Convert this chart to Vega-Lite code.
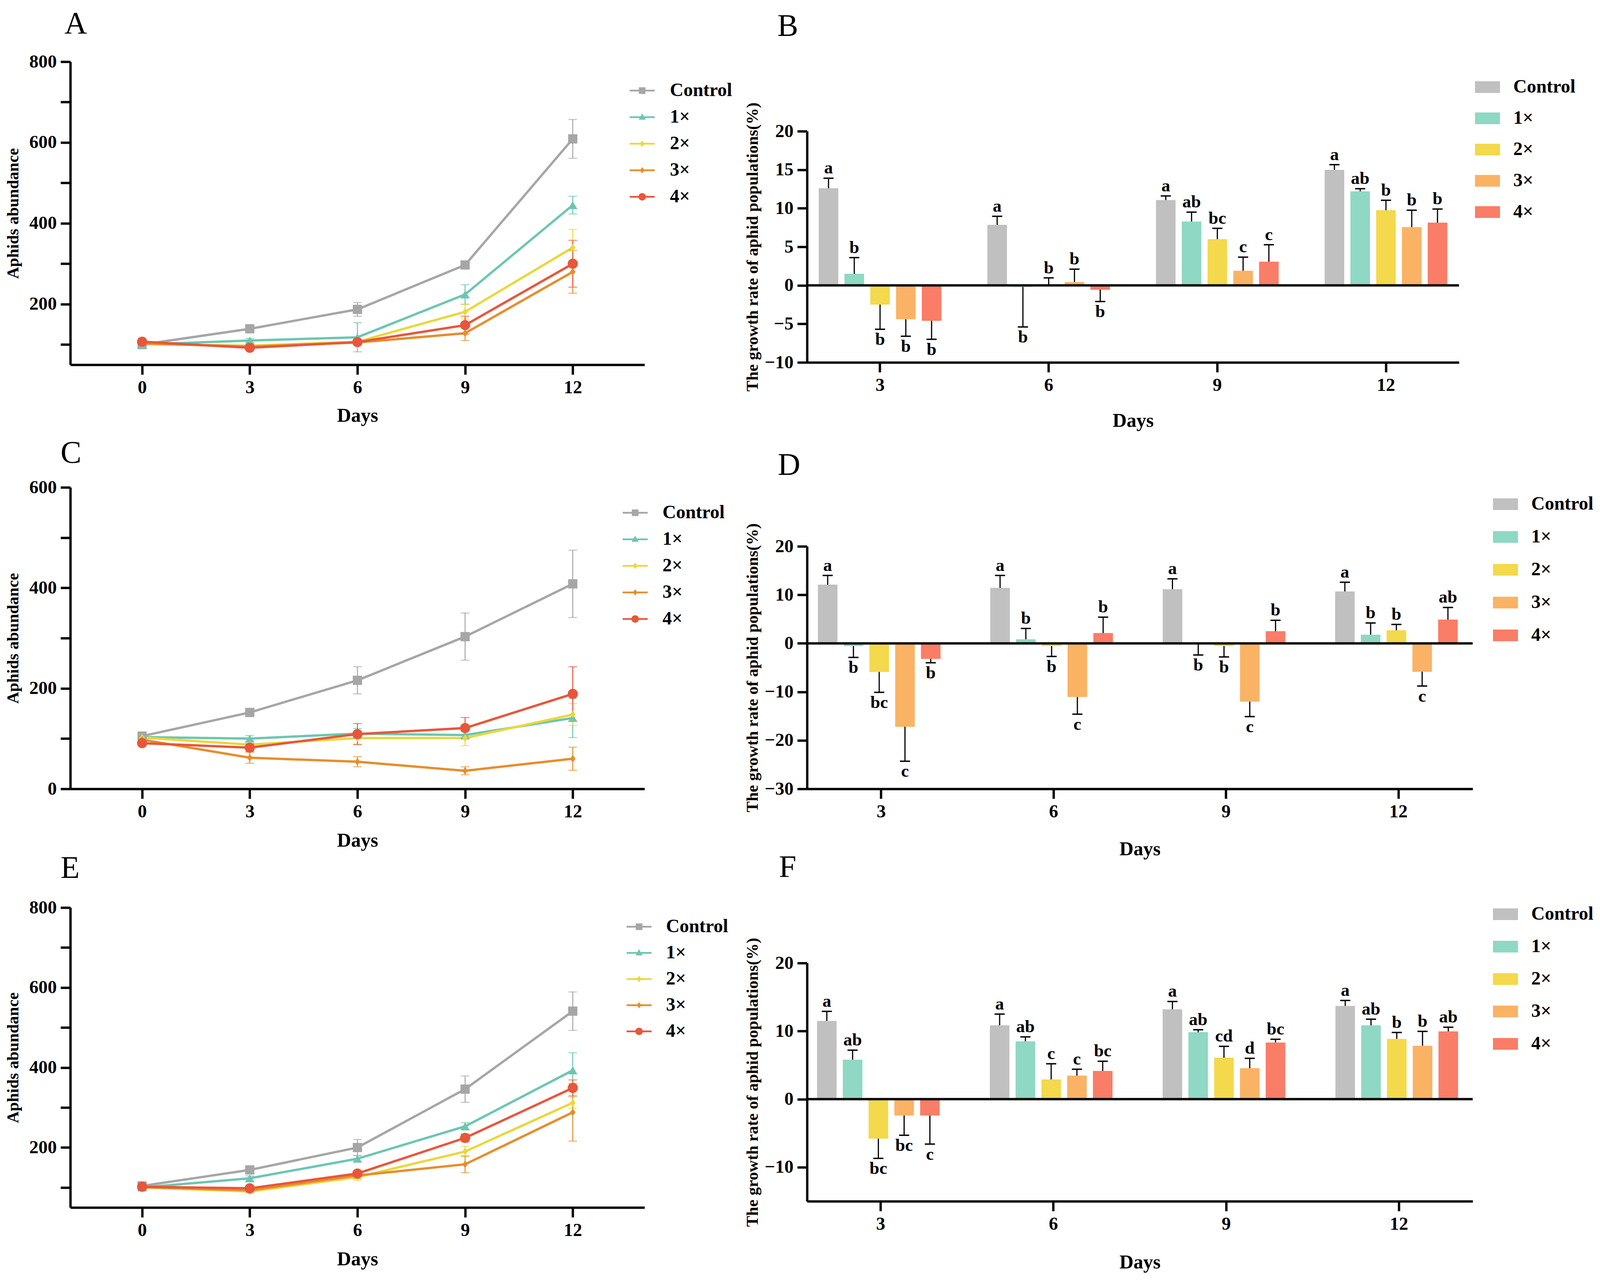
{
  "$schema": "https://vega.github.io/schema/vega-lite/v6.json",
  "padding": {"left": 12, "top": 22, "right": 5, "bottom": 5},
  "datasets": {
    "lineA": [
      {"series": "Control", "day": 0, "mean": 100, "lo": 96, "hi": 104},
      {"series": "Control", "day": 3, "mean": 139, "lo": 133, "hi": 145},
      {"series": "Control", "day": 6, "mean": 187, "lo": 170, "hi": 204},
      {"series": "Control", "day": 9, "mean": 297, "lo": 289, "hi": 305},
      {"series": "Control", "day": 12, "mean": 609, "lo": 561, "hi": 657},
      {"series": "1×", "day": 0, "mean": 100, "lo": 97, "hi": 103},
      {"series": "1×", "day": 3, "mean": 110, "lo": 105, "hi": 115},
      {"series": "1×", "day": 6, "mean": 118, "lo": 82, "hi": 154},
      {"series": "1×", "day": 9, "mean": 224, "lo": 200, "hi": 248},
      {"series": "1×", "day": 12, "mean": 445, "lo": 423, "hi": 467},
      {"series": "2×", "day": 0, "mean": 101, "lo": 98, "hi": 104},
      {"series": "2×", "day": 3, "mean": 97, "lo": 93, "hi": 101},
      {"series": "2×", "day": 6, "mean": 107, "lo": 101, "hi": 113},
      {"series": "2×", "day": 9, "mean": 181, "lo": 163, "hi": 199},
      {"series": "2×", "day": 12, "mean": 340, "lo": 295, "hi": 385},
      {"series": "3×", "day": 0, "mean": 103, "lo": 100, "hi": 106},
      {"series": "3×", "day": 3, "mean": 95, "lo": 91, "hi": 99},
      {"series": "3×", "day": 6, "mean": 105, "lo": 100, "hi": 110},
      {"series": "3×", "day": 9, "mean": 128, "lo": 110, "hi": 146},
      {"series": "3×", "day": 12, "mean": 280, "lo": 227, "hi": 333},
      {"series": "4×", "day": 0, "mean": 107, "lo": 104, "hi": 110},
      {"series": "4×", "day": 3, "mean": 92, "lo": 88, "hi": 96},
      {"series": "4×", "day": 6, "mean": 106, "lo": 100, "hi": 112},
      {"series": "4×", "day": 9, "mean": 148, "lo": 126, "hi": 170},
      {"series": "4×", "day": 12, "mean": 300, "lo": 242, "hi": 358}
    ],
    "lineC": [
      {"series": "Control", "day": 0, "mean": 105, "lo": 100, "hi": 110},
      {"series": "Control", "day": 3, "mean": 152, "lo": 144, "hi": 160},
      {"series": "Control", "day": 6, "mean": 216, "lo": 189, "hi": 243},
      {"series": "Control", "day": 9, "mean": 303, "lo": 256, "hi": 350},
      {"series": "Control", "day": 12, "mean": 408, "lo": 341, "hi": 475},
      {"series": "1×", "day": 0, "mean": 103, "lo": 99, "hi": 107},
      {"series": "1×", "day": 3, "mean": 100, "lo": 94, "hi": 106},
      {"series": "1×", "day": 6, "mean": 110, "lo": 100, "hi": 120},
      {"series": "1×", "day": 9, "mean": 107, "lo": 99, "hi": 115},
      {"series": "1×", "day": 12, "mean": 141, "lo": 102, "hi": 180},
      {"series": "2×", "day": 0, "mean": 102, "lo": 98, "hi": 106},
      {"series": "2×", "day": 3, "mean": 88, "lo": 82, "hi": 94},
      {"series": "2×", "day": 6, "mean": 101, "lo": 89, "hi": 113},
      {"series": "2×", "day": 9, "mean": 101, "lo": 86, "hi": 116},
      {"series": "2×", "day": 12, "mean": 148, "lo": 126, "hi": 170},
      {"series": "3×", "day": 0, "mean": 98, "lo": 94, "hi": 102},
      {"series": "3×", "day": 3, "mean": 62, "lo": 51, "hi": 73},
      {"series": "3×", "day": 6, "mean": 54, "lo": 44, "hi": 64},
      {"series": "3×", "day": 9, "mean": 36, "lo": 28, "hi": 44},
      {"series": "3×", "day": 12, "mean": 60, "lo": 37, "hi": 83},
      {"series": "4×", "day": 0, "mean": 91, "lo": 87, "hi": 95},
      {"series": "4×", "day": 3, "mean": 82, "lo": 74, "hi": 90},
      {"series": "4×", "day": 6, "mean": 109, "lo": 88, "hi": 130},
      {"series": "4×", "day": 9, "mean": 121, "lo": 100, "hi": 142},
      {"series": "4×", "day": 12, "mean": 189, "lo": 135, "hi": 243}
    ],
    "lineE": [
      {"series": "Control", "day": 0, "mean": 104, "lo": 98, "hi": 110},
      {"series": "Control", "day": 3, "mean": 144, "lo": 139, "hi": 149},
      {"series": "Control", "day": 6, "mean": 200, "lo": 180, "hi": 220},
      {"series": "Control", "day": 9, "mean": 346, "lo": 313, "hi": 379},
      {"series": "Control", "day": 12, "mean": 541, "lo": 493, "hi": 589},
      {"series": "1×", "day": 0, "mean": 100, "lo": 96, "hi": 104},
      {"series": "1×", "day": 3, "mean": 123, "lo": 117, "hi": 129},
      {"series": "1×", "day": 6, "mean": 172, "lo": 164, "hi": 180},
      {"series": "1×", "day": 9, "mean": 253, "lo": 244, "hi": 262},
      {"series": "1×", "day": 12, "mean": 393, "lo": 349, "hi": 437},
      {"series": "2×", "day": 0, "mean": 100, "lo": 97, "hi": 103},
      {"series": "2×", "day": 3, "mean": 90, "lo": 85, "hi": 95},
      {"series": "2×", "day": 6, "mean": 126, "lo": 118, "hi": 134},
      {"series": "2×", "day": 9, "mean": 190, "lo": 177, "hi": 203},
      {"series": "2×", "day": 12, "mean": 312, "lo": 298, "hi": 326},
      {"series": "3×", "day": 0, "mean": 101, "lo": 98, "hi": 104},
      {"series": "3×", "day": 3, "mean": 93, "lo": 88, "hi": 98},
      {"series": "3×", "day": 6, "mean": 130, "lo": 122, "hi": 138},
      {"series": "3×", "day": 9, "mean": 158, "lo": 137, "hi": 179},
      {"series": "3×", "day": 12, "mean": 288, "lo": 216, "hi": 360},
      {"series": "4×", "day": 0, "mean": 102, "lo": 99, "hi": 105},
      {"series": "4×", "day": 3, "mean": 98, "lo": 93, "hi": 103},
      {"series": "4×", "day": 6, "mean": 135, "lo": 129, "hi": 141},
      {"series": "4×", "day": 9, "mean": 224, "lo": 214, "hi": 234},
      {"series": "4×", "day": 12, "mean": 349, "lo": 329, "hi": 369}
    ],
    "barB": [
      {"day": 3, "series": "Control", "v": 12.6, "end": 13.9, "sig": "a"},
      {"day": 3, "series": "1×", "v": 1.5, "end": 3.6, "sig": "b"},
      {"day": 3, "series": "2×", "v": -2.5, "end": -5.7, "sig": "b"},
      {"day": 3, "series": "3×", "v": -4.4, "end": -6.6, "sig": "b"},
      {"day": 3, "series": "4×", "v": -4.6, "end": -7.0, "sig": "b"},
      {"day": 6, "series": "Control", "v": 7.85, "end": 8.96, "sig": "a"},
      {"day": 6, "series": "1×", "v": -0.2, "end": -5.4, "sig": "b"},
      {"day": 6, "series": "2×", "v": 0.05, "end": 0.97, "sig": "b"},
      {"day": 6, "series": "3×", "v": 0.43, "end": 2.1, "sig": "b"},
      {"day": 6, "series": "4×", "v": -0.57, "end": -2.1, "sig": "b"},
      {"day": 9, "series": "Control", "v": 11.07, "end": 11.6, "sig": "a"},
      {"day": 9, "series": "1×", "v": 8.28, "end": 9.5, "sig": "ab"},
      {"day": 9, "series": "2×", "v": 6.0, "end": 7.4, "sig": "bc"},
      {"day": 9, "series": "3×", "v": 1.9, "end": 3.66, "sig": "c"},
      {"day": 9, "series": "4×", "v": 3.08, "end": 5.27, "sig": "c"},
      {"day": 12, "series": "Control", "v": 14.98, "end": 15.66, "sig": "a"},
      {"day": 12, "series": "1×", "v": 12.2, "end": 12.54, "sig": "ab"},
      {"day": 12, "series": "2×", "v": 9.75, "end": 11.04, "sig": "b"},
      {"day": 12, "series": "3×", "v": 7.56, "end": 9.75, "sig": "b"},
      {"day": 12, "series": "4×", "v": 8.14, "end": 9.9, "sig": "b"}
    ],
    "barD": [
      {"day": 3, "series": "Control", "v": 12.1, "end": 14.0, "sig": "a"},
      {"day": 3, "series": "1×", "v": -0.56, "end": -2.9, "sig": "b"},
      {"day": 3, "series": "2×", "v": -5.9, "end": -10.1, "sig": "bc"},
      {"day": 3, "series": "3×", "v": -17.2, "end": -24.3, "sig": "c"},
      {"day": 3, "series": "4×", "v": -3.2, "end": -4.0, "sig": "b"},
      {"day": 6, "series": "Control", "v": 11.45, "end": 14.0, "sig": "a"},
      {"day": 6, "series": "1×", "v": 0.84, "end": 3.07, "sig": "b"},
      {"day": 6, "series": "2×", "v": -0.56, "end": -2.7, "sig": "b"},
      {"day": 6, "series": "3×", "v": -11.06, "end": -14.6, "sig": "c"},
      {"day": 6, "series": "4×", "v": 2.12, "end": 5.4, "sig": "b"},
      {"day": 9, "series": "Control", "v": 11.17, "end": 13.3, "sig": "a"},
      {"day": 9, "series": "1×", "v": -0.1, "end": -2.4, "sig": "b"},
      {"day": 9, "series": "2×", "v": -0.56, "end": -2.8, "sig": "b"},
      {"day": 9, "series": "3×", "v": -12.0, "end": -15.1, "sig": "c"},
      {"day": 9, "series": "4×", "v": 2.5, "end": 4.75, "sig": "b"},
      {"day": 12, "series": "Control", "v": 10.7, "end": 12.6, "sig": "a"},
      {"day": 12, "series": "1×", "v": 1.79, "end": 4.2, "sig": "b"},
      {"day": 12, "series": "2×", "v": 2.68, "end": 3.9, "sig": "b"},
      {"day": 12, "series": "3×", "v": -5.87, "end": -8.8, "sig": "c"},
      {"day": 12, "series": "4×", "v": 4.9, "end": 7.4, "sig": "ab"}
    ],
    "barF": [
      {"day": 3, "series": "Control", "v": 11.5, "end": 12.9, "sig": "a"},
      {"day": 3, "series": "1×", "v": 5.8, "end": 7.2, "sig": "ab"},
      {"day": 3, "series": "2×", "v": -5.8, "end": -8.7, "sig": "bc"},
      {"day": 3, "series": "3×", "v": -2.4, "end": -5.3, "sig": "bc"},
      {"day": 3, "series": "4×", "v": -2.4, "end": -6.6, "sig": "c"},
      {"day": 6, "series": "Control", "v": 10.85, "end": 12.5, "sig": "a"},
      {"day": 6, "series": "1×", "v": 8.5, "end": 9.15, "sig": "ab"},
      {"day": 6, "series": "2×", "v": 2.9, "end": 5.2, "sig": "c"},
      {"day": 6, "series": "3×", "v": 3.46, "end": 4.4, "sig": "c"},
      {"day": 6, "series": "4×", "v": 4.15, "end": 5.57, "sig": "bc"},
      {"day": 9, "series": "Control", "v": 13.2, "end": 14.35, "sig": "a"},
      {"day": 9, "series": "1×", "v": 9.84, "end": 10.2, "sig": "ab"},
      {"day": 9, "series": "2×", "v": 6.1, "end": 7.76, "sig": "cd"},
      {"day": 9, "series": "3×", "v": 4.55, "end": 6.0, "sig": "d"},
      {"day": 9, "series": "4×", "v": 8.33, "end": 8.8, "sig": "bc"},
      {"day": 12, "series": "Control", "v": 13.7, "end": 14.5, "sig": "a"},
      {"day": 12, "series": "1×", "v": 10.85, "end": 11.75, "sig": "ab"},
      {"day": 12, "series": "2×", "v": 8.86, "end": 9.8, "sig": "b"},
      {"day": 12, "series": "3×", "v": 7.85, "end": 9.96, "sig": "b"},
      {"day": 12, "series": "4×", "v": 9.96, "end": 10.57, "sig": "ab"}
    ],
    "seriesList": [
      {"series": "Control"}, {"series": "1×"}, {"series": "2×"}, {"series": "3×"}, {"series": "4×"}
    ]
  },
  "hconcat": [
    {
      "vconcat": [
        {
          "width": 1470, "height": 776,
          "title": {"text": "A", "offset": 31, "dx": -15},
          "data": {"name": "lineA"},
          "resolve": {"scale": {"shape": "independent", "fill": "independent"}, "legend": {"shape": "independent", "fill": "independent"}},
          "layer": [
            {
              "mark": {"type": "line", "strokeWidth": 6},
              "encoding": {
                "x": {"field": "day", "type": "quantitative", "scale": {"domain": [-2, 14], "nice": false, "zero": false}, "axis": {"values": [0, 3, 6, 9, 12], "title": "Days", "titlePadding": 24, "labelFlush": false, "labelOverlap": false}},
                "y": {"field": "mean", "type": "quantitative", "scale": {"domain": [50, 800], "nice": false, "zero": false}, "axis": {"values": [100, 200, 300, 400, 500, 600, 700, 800], "labelExpr": "datum.value % 200 === 0 ? datum.label : ''", "title": "Aphids abundance", "titlePadding": 19, "labelOverlap": false}},
                "color": {"field": "series", "type": "nominal", "scale": {"domain": ["Control", "1×", "2×", "3×", "4×"], "range": ["#A6A6A6", "#6CC6B1", "#E9D83C", "#E58E2D", "#E8563B"]}, "legend": null}
              }
            },
            {
              "mark": {"type": "errorbar", "ticks": true, "size": 22, "thickness": 2.5},
              "encoding": {
                "x": {"field": "day", "type": "quantitative", "scale": {"domain": [-2, 14], "nice": false, "zero": false}, "axis": {"values": [0, 3, 6, 9, 12], "title": "Days", "titlePadding": 24, "labelFlush": false, "labelOverlap": false}},
                "y": {"field": "lo", "type": "quantitative", "scale": {"domain": [50, 800], "nice": false, "zero": false}, "axis": {"values": [100, 200, 300, 400, 500, 600, 700, 800], "labelExpr": "datum.value % 200 === 0 ? datum.label : ''", "title": "Aphids abundance", "titlePadding": 19, "labelOverlap": false}},
                "y2": {"field": "hi"},
                "color": {"field": "series", "type": "nominal", "scale": {"domain": ["Control", "1×", "2×", "3×", "4×"], "range": ["#A6A6A6", "#6CC6B1", "#E9D83C", "#E58E2D", "#E8563B"]}, "legend": null}
              }
            },
            {
              "mark": {"type": "point", "filled": true, "size": 560, "opacity": 1},
              "encoding": {
                "x": {"field": "day", "type": "quantitative", "scale": {"domain": [-2, 14], "nice": false, "zero": false}, "axis": {"values": [0, 3, 6, 9, 12], "title": "Days", "titlePadding": 24, "labelFlush": false, "labelOverlap": false}},
                "y": {"field": "mean", "type": "quantitative", "scale": {"domain": [50, 800], "nice": false, "zero": false}, "axis": {"values": [100, 200, 300, 400, 500, 600, 700, 800], "labelExpr": "datum.value % 200 === 0 ? datum.label : ''", "title": "Aphids abundance", "titlePadding": 19, "labelOverlap": false}},
                "color": {"field": "series", "type": "nominal", "scale": {"domain": ["Control", "1×", "2×", "3×", "4×"], "range": ["#A6A6A6", "#6CC6B1", "#E9D83C", "#E58E2D", "#E8563B"]}, "legend": null},
                "shape": {"field": "series", "type": "nominal", "scale": {"domain": ["Control", "1×", "2×", "3×", "4×"], "range": ["square", "triangle-up", "M0,-0.8L0.6,0L0,0.8L-0.6,0Z", "M0,-0.8L0.6,0L0,0.8L-0.6,0Z", "M-1.1,0A1.1,1.1,0,1,1,1.1,0A1.1,1.1,0,1,1,-1.1,0Z"]}, "legend": null}
              }
            },
            {
              "data": {"name": "seriesList"},
              "transform": [{"filter": "false"}],
              "mark": {"type": "point", "filled": true, "opacity": 1},
              "encoding": {
                "fill": {"field": "series", "type": "nominal", "scale": {"domain": ["Control", "1×", "2×", "3×", "4×"], "range": ["#A6A6A6", "#6CC6B1", "#E9D83C", "#E58E2D", "#E8563B"]}, "legend": {"title": null, "orient": "none", "legendX": 1440, "legendY": 50, "symbolSize": 400, "symbolStrokeWidth": 0, "labelOffset": 47, "rowPadding": 20}},
                "shape": {"field": "series", "type": "nominal", "scale": {"domain": ["Control", "1×", "2×", "3×", "4×"], "range": ["M-3.2,-0.22H3.2V0.22H-3.2ZM-0.85,-0.85H0.85V0.85H-0.85Z", "M-3.2,-0.22H3.2V0.22H-3.2ZM0,-0.95L0.9,0.65H-0.9Z", "M-3.2,-0.22H3.2V0.22H-3.2ZM0,-0.8L0.6,0L0,0.8L-0.6,0Z", "M-3.2,-0.22H3.2V0.22H-3.2ZM0,-0.8L0.6,0L0,0.8L-0.6,0Z", "M-3.2,-0.22H3.2V0.22H-3.2ZM-0.95,0A0.95,0.95,0,1,1,0.95,0A0.95,0.95,0,1,1,-0.95,0Z"]}, "legend": {"title": null, "orient": "none", "legendX": 1440, "legendY": 50, "symbolSize": 400, "symbolStrokeWidth": 0, "labelOffset": 47, "rowPadding": 20}}
              }
            }
          ]
        },
        {
          "width": 10, "height": 314,
          "data": {"name": "seriesList"},
          "transform": [{"filter": "false"}],
          "mark": {"type": "point", "opacity": 0}
        },
        {
          "width": 1470, "height": 772,
          "title": {"text": "C", "offset": 22, "dx": -25},
          "data": {"name": "lineC"},
          "resolve": {"scale": {"shape": "independent", "fill": "independent"}, "legend": {"shape": "independent", "fill": "independent"}},
          "layer": [
            {
              "mark": {"type": "line", "strokeWidth": 6},
              "encoding": {
                "x": {"field": "day", "type": "quantitative", "scale": {"domain": [-2, 14], "nice": false, "zero": false}, "axis": {"values": [0, 3, 6, 9, 12], "title": "Days", "titlePadding": 26, "labelFlush": false, "labelOverlap": false}},
                "y": {"field": "mean", "type": "quantitative", "scale": {"domain": [0, 600], "nice": false}, "axis": {"values": [0, 100, 200, 300, 400, 500, 600], "labelExpr": "datum.value % 200 === 0 ? datum.label : ''", "title": "Aphids abundance", "titlePadding": 19, "labelOverlap": false}},
                "color": {"field": "series", "type": "nominal", "scale": {"domain": ["Control", "1×", "2×", "3×", "4×"], "range": ["#A6A6A6", "#6CC6B1", "#E9D83C", "#E58E2D", "#E8563B"]}, "legend": null}
              }
            },
            {
              "mark": {"type": "errorbar", "ticks": true, "size": 22, "thickness": 2.5},
              "encoding": {
                "x": {"field": "day", "type": "quantitative", "scale": {"domain": [-2, 14], "nice": false, "zero": false}, "axis": {"values": [0, 3, 6, 9, 12], "title": "Days", "titlePadding": 26, "labelFlush": false, "labelOverlap": false}},
                "y": {"field": "lo", "type": "quantitative", "scale": {"domain": [0, 600], "nice": false}, "axis": {"values": [0, 100, 200, 300, 400, 500, 600], "labelExpr": "datum.value % 200 === 0 ? datum.label : ''", "title": "Aphids abundance", "titlePadding": 19, "labelOverlap": false}},
                "y2": {"field": "hi"},
                "color": {"field": "series", "type": "nominal", "scale": {"domain": ["Control", "1×", "2×", "3×", "4×"], "range": ["#A6A6A6", "#6CC6B1", "#E9D83C", "#E58E2D", "#E8563B"]}, "legend": null}
              }
            },
            {
              "mark": {"type": "point", "filled": true, "size": 560, "opacity": 1},
              "encoding": {
                "x": {"field": "day", "type": "quantitative", "scale": {"domain": [-2, 14], "nice": false, "zero": false}, "axis": {"values": [0, 3, 6, 9, 12], "title": "Days", "titlePadding": 26, "labelFlush": false, "labelOverlap": false}},
                "y": {"field": "mean", "type": "quantitative", "scale": {"domain": [0, 600], "nice": false}, "axis": {"values": [0, 100, 200, 300, 400, 500, 600], "labelExpr": "datum.value % 200 === 0 ? datum.label : ''", "title": "Aphids abundance", "titlePadding": 19, "labelOverlap": false}},
                "color": {"field": "series", "type": "nominal", "scale": {"domain": ["Control", "1×", "2×", "3×", "4×"], "range": ["#A6A6A6", "#6CC6B1", "#E9D83C", "#E58E2D", "#E8563B"]}, "legend": null},
                "shape": {"field": "series", "type": "nominal", "scale": {"domain": ["Control", "1×", "2×", "3×", "4×"], "range": ["square", "triangle-up", "M0,-0.8L0.6,0L0,0.8L-0.6,0Z", "M0,-0.8L0.6,0L0,0.8L-0.6,0Z", "M-1.1,0A1.1,1.1,0,1,1,1.1,0A1.1,1.1,0,1,1,-1.1,0Z"]}, "legend": null}
              }
            },
            {
              "data": {"name": "seriesList"},
              "transform": [{"filter": "false"}],
              "mark": {"type": "point", "filled": true, "opacity": 1},
              "encoding": {
                "fill": {"field": "series", "type": "nominal", "scale": {"domain": ["Control", "1×", "2×", "3×", "4×"], "range": ["#A6A6A6", "#6CC6B1", "#E9D83C", "#E58E2D", "#E8563B"]}, "legend": {"title": null, "orient": "none", "legendX": 1422, "legendY": 41, "symbolSize": 400, "symbolStrokeWidth": 0, "labelOffset": 46, "rowPadding": 20}},
                "shape": {"field": "series", "type": "nominal", "scale": {"domain": ["Control", "1×", "2×", "3×", "4×"], "range": ["M-3.2,-0.22H3.2V0.22H-3.2ZM-0.85,-0.85H0.85V0.85H-0.85Z", "M-3.2,-0.22H3.2V0.22H-3.2ZM0,-0.95L0.9,0.65H-0.9Z", "M-3.2,-0.22H3.2V0.22H-3.2ZM0,-0.8L0.6,0L0,0.8L-0.6,0Z", "M-3.2,-0.22H3.2V0.22H-3.2ZM0,-0.8L0.6,0L0,0.8L-0.6,0Z", "M-3.2,-0.22H3.2V0.22H-3.2ZM-0.95,0A0.95,0.95,0,1,1,0.95,0A0.95,0.95,0,1,1,-0.95,0Z"]}, "legend": {"title": null, "orient": "none", "legendX": 1422, "legendY": 41, "symbolSize": 400, "symbolStrokeWidth": 0, "labelOffset": 46, "rowPadding": 20}}
              }
            }
          ]
        },
        {
          "width": 10, "height": 304,
          "data": {"name": "seriesList"},
          "transform": [{"filter": "false"}],
          "mark": {"type": "point", "opacity": 0}
        },
        {
          "width": 1470, "height": 768,
          "title": {"text": "E", "offset": 35, "dx": -25},
          "data": {"name": "lineE"},
          "resolve": {"scale": {"shape": "independent", "fill": "independent"}, "legend": {"shape": "independent", "fill": "independent"}},
          "layer": [
            {
              "mark": {"type": "line", "strokeWidth": 6},
              "encoding": {
                "x": {"field": "day", "type": "quantitative", "scale": {"domain": [-2, 14], "nice": false, "zero": false}, "axis": {"values": [0, 3, 6, 9, 12], "title": "Days", "titlePadding": 26, "labelFlush": false, "labelOverlap": false}},
                "y": {"field": "mean", "type": "quantitative", "scale": {"domain": [50, 800], "nice": false, "zero": false}, "axis": {"values": [100, 200, 300, 400, 500, 600, 700, 800], "labelExpr": "datum.value % 200 === 0 ? datum.label : ''", "title": "Aphids abundance", "titlePadding": 19, "labelOverlap": false}},
                "color": {"field": "series", "type": "nominal", "scale": {"domain": ["Control", "1×", "2×", "3×", "4×"], "range": ["#A6A6A6", "#6CC6B1", "#E9D83C", "#E58E2D", "#E8563B"]}, "legend": null}
              }
            },
            {
              "mark": {"type": "errorbar", "ticks": true, "size": 22, "thickness": 2.5},
              "encoding": {
                "x": {"field": "day", "type": "quantitative", "scale": {"domain": [-2, 14], "nice": false, "zero": false}, "axis": {"values": [0, 3, 6, 9, 12], "title": "Days", "titlePadding": 26, "labelFlush": false, "labelOverlap": false}},
                "y": {"field": "lo", "type": "quantitative", "scale": {"domain": [50, 800], "nice": false, "zero": false}, "axis": {"values": [100, 200, 300, 400, 500, 600, 700, 800], "labelExpr": "datum.value % 200 === 0 ? datum.label : ''", "title": "Aphids abundance", "titlePadding": 19, "labelOverlap": false}},
                "y2": {"field": "hi"},
                "color": {"field": "series", "type": "nominal", "scale": {"domain": ["Control", "1×", "2×", "3×", "4×"], "range": ["#A6A6A6", "#6CC6B1", "#E9D83C", "#E58E2D", "#E8563B"]}, "legend": null}
              }
            },
            {
              "mark": {"type": "point", "filled": true, "size": 560, "opacity": 1},
              "encoding": {
                "x": {"field": "day", "type": "quantitative", "scale": {"domain": [-2, 14], "nice": false, "zero": false}, "axis": {"values": [0, 3, 6, 9, 12], "title": "Days", "titlePadding": 26, "labelFlush": false, "labelOverlap": false}},
                "y": {"field": "mean", "type": "quantitative", "scale": {"domain": [50, 800], "nice": false, "zero": false}, "axis": {"values": [100, 200, 300, 400, 500, 600, 700, 800], "labelExpr": "datum.value % 200 === 0 ? datum.label : ''", "title": "Aphids abundance", "titlePadding": 19, "labelOverlap": false}},
                "color": {"field": "series", "type": "nominal", "scale": {"domain": ["Control", "1×", "2×", "3×", "4×"], "range": ["#A6A6A6", "#6CC6B1", "#E9D83C", "#E58E2D", "#E8563B"]}, "legend": null},
                "shape": {"field": "series", "type": "nominal", "scale": {"domain": ["Control", "1×", "2×", "3×", "4×"], "range": ["square", "triangle-up", "M0,-0.8L0.6,0L0,0.8L-0.6,0Z", "M0,-0.8L0.6,0L0,0.8L-0.6,0Z", "M-1.1,0A1.1,1.1,0,1,1,1.1,0A1.1,1.1,0,1,1,-1.1,0Z"]}, "legend": null}
              }
            },
            {
              "data": {"name": "seriesList"},
              "transform": [{"filter": "false"}],
              "mark": {"type": "point", "filled": true, "opacity": 1},
              "encoding": {
                "fill": {"field": "series", "type": "nominal", "scale": {"domain": ["Control", "1×", "2×", "3×", "4×"], "range": ["#A6A6A6", "#6CC6B1", "#E9D83C", "#E58E2D", "#E8563B"]}, "legend": {"title": null, "orient": "none", "legendX": 1432, "legendY": 25, "symbolSize": 400, "symbolStrokeWidth": 0, "labelOffset": 45, "rowPadding": 19}},
                "shape": {"field": "series", "type": "nominal", "scale": {"domain": ["Control", "1×", "2×", "3×", "4×"], "range": ["M-3.2,-0.22H3.2V0.22H-3.2ZM-0.85,-0.85H0.85V0.85H-0.85Z", "M-3.2,-0.22H3.2V0.22H-3.2ZM0,-0.95L0.9,0.65H-0.9Z", "M-3.2,-0.22H3.2V0.22H-3.2ZM0,-0.8L0.6,0L0,0.8L-0.6,0Z", "M-3.2,-0.22H3.2V0.22H-3.2ZM0,-0.8L0.6,0L0,0.8L-0.6,0Z", "M-3.2,-0.22H3.2V0.22H-3.2ZM-0.95,0A0.95,0.95,0,1,1,0.95,0A0.95,0.95,0,1,1,-0.95,0Z"]}, "legend": {"title": null, "orient": "none", "legendX": 1432, "legendY": 25, "symbolSize": 400, "symbolStrokeWidth": 0, "labelOffset": 45, "rowPadding": 19}}
              }
            }
          ]
        }
      ],
      "spacing": 0,
      "bounds": "flush",
      "resolve": {"scale": {"color": "independent", "shape": "independent", "fill": "independent"}, "legend": {"color": "independent", "shape": "independent", "fill": "independent"}}
    },
    {
      "vconcat": [
        {
          "width": 10, "height": 178,
          "data": {"name": "seriesList"},
          "transform": [{"filter": "false"}],
          "mark": {"type": "point", "opacity": 0}
        },
        {
          "width": 1669, "height": 592,
          "title": {"text": "B", "offset": 90, "dx": -76},
          "data": {"name": "barB"},
          "layer": [
            {
              "mark": {"type": "bar"},
              "encoding": {
                "x": {"field": "day", "type": "ordinal", "scale": {"paddingInner": 0.236, "paddingOuter": 0.051}, "axis": {"title": "Days", "labelAngle": 0, "titlePadding": 43}},
                "xOffset": {"field": "series", "type": "nominal", "scale": {"domain": ["Control", "1×", "2×", "3×", "4×"], "paddingInner": 0.24, "paddingOuter": 0.12}},
                "y": {"field": "v", "type": "quantitative", "scale": {"domain": [-10, 20], "nice": false}, "axis": {"values": [-10, -5, 0, 5, 10, 15, 20], "title": "The growth rate of aphid populations(%)", "titlePadding": 9, "labelOverlap": false}},
                "color": {"field": "series", "type": "nominal", "scale": {"domain": ["Control", "1×", "2×", "3×", "4×"], "range": ["#C0C0C0", "#8FD8C3", "#F3D94B", "#FAB365", "#F97D67"]}, "legend": {"title": null, "orient": "none", "legendX": 1718, "legendY": -137, "symbolType": "M-1.6,-0.75H1.6V0.75H-1.6Z", "symbolSize": 1600, "symbolStrokeWidth": 0, "labelOffset": 42, "rowPadding": 32}}
              }
            },
            {
              "mark": {"type": "rule", "color": "black", "strokeWidth": 3},
              "encoding": {
                "x": {"field": "day", "type": "ordinal", "scale": {"paddingInner": 0.236, "paddingOuter": 0.051}, "axis": {"title": "Days", "labelAngle": 0, "titlePadding": 43}},
                "xOffset": {"field": "series", "type": "nominal", "scale": {"domain": ["Control", "1×", "2×", "3×", "4×"], "paddingInner": 0.24, "paddingOuter": 0.12}},
                "y": {"field": "v", "type": "quantitative", "scale": {"domain": [-10, 20], "nice": false}, "axis": {"values": [-10, -5, 0, 5, 10, 15, 20], "title": "The growth rate of aphid populations(%)", "titlePadding": 9, "labelOverlap": false}},
                "y2": {"field": "end"}
              }
            },
            {
              "mark": {"type": "tick", "color": "black", "size": 26, "thickness": 3.5, "opacity": 1},
              "encoding": {
                "x": {"field": "day", "type": "ordinal", "scale": {"paddingInner": 0.236, "paddingOuter": 0.051}, "axis": {"title": "Days", "labelAngle": 0, "titlePadding": 43}},
                "xOffset": {"field": "series", "type": "nominal", "scale": {"domain": ["Control", "1×", "2×", "3×", "4×"], "paddingInner": 0.24, "paddingOuter": 0.12}},
                "y": {"field": "end", "type": "quantitative", "scale": {"domain": [-10, 20], "nice": false}, "axis": {"values": [-10, -5, 0, 5, 10, 15, 20], "title": "The growth rate of aphid populations(%)", "titlePadding": 9, "labelOverlap": false}}
              }
            },
            {
              "transform": [{"filter": "datum.v >= 0"}],
              "mark": {"type": "text", "baseline": "bottom", "dy": -3, "fontSize": 45, "fontWeight": "bold", "font": "Liberation Serif", "color": "black"},
              "encoding": {
                "x": {"field": "day", "type": "ordinal", "scale": {"paddingInner": 0.236, "paddingOuter": 0.051}, "axis": {"title": "Days", "labelAngle": 0, "titlePadding": 43}},
                "xOffset": {"field": "series", "type": "nominal", "scale": {"domain": ["Control", "1×", "2×", "3×", "4×"], "paddingInner": 0.24, "paddingOuter": 0.12}},
                "y": {"field": "end", "type": "quantitative", "scale": {"domain": [-10, 20], "nice": false}, "axis": {"values": [-10, -5, 0, 5, 10, 15, 20], "title": "The growth rate of aphid populations(%)", "titlePadding": 9, "labelOverlap": false}},
                "text": {"field": "sig"}
              }
            },
            {
              "transform": [{"filter": "datum.v < 0"}],
              "mark": {"type": "text", "baseline": "top", "dy": 4, "fontSize": 45, "fontWeight": "bold", "font": "Liberation Serif", "color": "black"},
              "encoding": {
                "x": {"field": "day", "type": "ordinal", "scale": {"paddingInner": 0.236, "paddingOuter": 0.051}, "axis": {"title": "Days", "labelAngle": 0, "titlePadding": 43}},
                "xOffset": {"field": "series", "type": "nominal", "scale": {"domain": ["Control", "1×", "2×", "3×", "4×"], "paddingInner": 0.24, "paddingOuter": 0.12}},
                "y": {"field": "end", "type": "quantitative", "scale": {"domain": [-10, 20], "nice": false}, "axis": {"values": [-10, -5, 0, 5, 10, 15, 20], "title": "The growth rate of aphid populations(%)", "titlePadding": 9, "labelOverlap": false}},
                "text": {"field": "sig"}
              }
            },
            {
              "data": {"values": [{"zero": 0}]},
              "mark": {"type": "rule", "color": "black", "strokeWidth": 6},
              "encoding": {"y": {"field": "zero", "type": "quantitative", "scale": {"domain": [-10, 20], "nice": false}, "axis": {"values": [-10, -5, 0, 5, 10, 15, 20], "title": "The growth rate of aphid populations(%)", "titlePadding": 9, "labelOverlap": false}}}
            }
          ]
        },
        {
          "width": 10, "height": 471,
          "data": {"name": "seriesList"},
          "transform": [{"filter": "false"}],
          "mark": {"type": "point", "opacity": 0}
        },
        {
          "width": 1704, "height": 621,
          "title": {"text": "D", "offset": 34, "dx": -75},
          "data": {"name": "barD"},
          "layer": [
            {
              "mark": {"type": "bar"},
              "encoding": {
                "x": {"field": "day", "type": "ordinal", "scale": {"paddingInner": 0.229, "paddingOuter": 0.045}, "axis": {"title": "Days", "labelAngle": 0, "titlePadding": 48}},
                "xOffset": {"field": "series", "type": "nominal", "scale": {"domain": ["Control", "1×", "2×", "3×", "4×"], "paddingInner": 0.24, "paddingOuter": 0.12}},
                "y": {"field": "v", "type": "quantitative", "scale": {"domain": [-30, 20], "nice": false}, "axis": {"values": [-30, -20, -10, 0, 10, 20], "title": "The growth rate of aphid populations(%)", "titlePadding": 9, "labelOverlap": false}},
                "color": {"field": "series", "type": "nominal", "scale": {"domain": ["Control", "1×", "2×", "3×", "4×"], "range": ["#C0C0C0", "#8FD8C3", "#F3D94B", "#FAB365", "#F97D67"]}, "legend": {"title": null, "orient": "none", "legendX": 1764, "legendY": -132, "symbolType": "M-1.6,-0.75H1.6V0.75H-1.6Z", "symbolSize": 1600, "symbolStrokeWidth": 0, "labelOffset": 42, "rowPadding": 36}}
              }
            },
            {
              "mark": {"type": "rule", "color": "black", "strokeWidth": 3},
              "encoding": {
                "x": {"field": "day", "type": "ordinal", "scale": {"paddingInner": 0.229, "paddingOuter": 0.045}, "axis": {"title": "Days", "labelAngle": 0, "titlePadding": 48}},
                "xOffset": {"field": "series", "type": "nominal", "scale": {"domain": ["Control", "1×", "2×", "3×", "4×"], "paddingInner": 0.24, "paddingOuter": 0.12}},
                "y": {"field": "v", "type": "quantitative", "scale": {"domain": [-30, 20], "nice": false}, "axis": {"values": [-30, -20, -10, 0, 10, 20], "title": "The growth rate of aphid populations(%)", "titlePadding": 9, "labelOverlap": false}},
                "y2": {"field": "end"}
              }
            },
            {
              "mark": {"type": "tick", "color": "black", "size": 26, "thickness": 3.5, "opacity": 1},
              "encoding": {
                "x": {"field": "day", "type": "ordinal", "scale": {"paddingInner": 0.229, "paddingOuter": 0.045}, "axis": {"title": "Days", "labelAngle": 0, "titlePadding": 48}},
                "xOffset": {"field": "series", "type": "nominal", "scale": {"domain": ["Control", "1×", "2×", "3×", "4×"], "paddingInner": 0.24, "paddingOuter": 0.12}},
                "y": {"field": "end", "type": "quantitative", "scale": {"domain": [-30, 20], "nice": false}, "axis": {"values": [-30, -20, -10, 0, 10, 20], "title": "The growth rate of aphid populations(%)", "titlePadding": 9, "labelOverlap": false}}
              }
            },
            {
              "transform": [{"filter": "datum.v >= 0"}],
              "mark": {"type": "text", "baseline": "bottom", "dy": -3, "fontSize": 45, "fontWeight": "bold", "font": "Liberation Serif", "color": "black"},
              "encoding": {
                "x": {"field": "day", "type": "ordinal", "scale": {"paddingInner": 0.229, "paddingOuter": 0.045}, "axis": {"title": "Days", "labelAngle": 0, "titlePadding": 48}},
                "xOffset": {"field": "series", "type": "nominal", "scale": {"domain": ["Control", "1×", "2×", "3×", "4×"], "paddingInner": 0.24, "paddingOuter": 0.12}},
                "y": {"field": "end", "type": "quantitative", "scale": {"domain": [-30, 20], "nice": false}, "axis": {"values": [-30, -20, -10, 0, 10, 20], "title": "The growth rate of aphid populations(%)", "titlePadding": 9, "labelOverlap": false}},
                "text": {"field": "sig"}
              }
            },
            {
              "transform": [{"filter": "datum.v < 0"}],
              "mark": {"type": "text", "baseline": "top", "dy": 4, "fontSize": 45, "fontWeight": "bold", "font": "Liberation Serif", "color": "black"},
              "encoding": {
                "x": {"field": "day", "type": "ordinal", "scale": {"paddingInner": 0.229, "paddingOuter": 0.045}, "axis": {"title": "Days", "labelAngle": 0, "titlePadding": 48}},
                "xOffset": {"field": "series", "type": "nominal", "scale": {"domain": ["Control", "1×", "2×", "3×", "4×"], "paddingInner": 0.24, "paddingOuter": 0.12}},
                "y": {"field": "end", "type": "quantitative", "scale": {"domain": [-30, 20], "nice": false}, "axis": {"values": [-30, -20, -10, 0, 10, 20], "title": "The growth rate of aphid populations(%)", "titlePadding": 9, "labelOverlap": false}},
                "text": {"field": "sig"}
              }
            },
            {
              "data": {"values": [{"zero": 0}]},
              "mark": {"type": "rule", "color": "black", "strokeWidth": 6},
              "encoding": {"y": {"field": "zero", "type": "quantitative", "scale": {"domain": [-30, 20], "nice": false}, "axis": {"values": [-30, -20, -10, 0, 10, 20], "title": "The growth rate of aphid populations(%)", "titlePadding": 9, "labelOverlap": false}}}
            }
          ]
        },
        {
          "width": 10, "height": 446,
          "data": {"name": "seriesList"},
          "transform": [{"filter": "false"}],
          "mark": {"type": "point", "opacity": 0}
        },
        {
          "width": 1704, "height": 610,
          "title": {"text": "F", "offset": 54, "dx": -72},
          "data": {"name": "barF"},
          "layer": [
            {
              "mark": {"type": "bar"},
              "encoding": {
                "x": {"field": "day", "type": "ordinal", "scale": {"paddingInner": 0.228, "paddingOuter": 0.04}, "axis": {"title": "Days", "labelAngle": 0, "titlePadding": 50}},
                "xOffset": {"field": "series", "type": "nominal", "scale": {"domain": ["Control", "1×", "2×", "3×", "4×"], "paddingInner": 0.24, "paddingOuter": 0.12}},
                "y": {"field": "v", "type": "quantitative", "scale": {"domain": [-15, 20], "nice": false}, "axis": {"values": [-10, 0, 10, 20], "title": "The growth rate of aphid populations(%)", "titlePadding": 9, "labelOverlap": false}},
                "color": {"field": "series", "type": "nominal", "scale": {"domain": ["Control", "1×", "2×", "3×", "4×"], "range": ["#C0C0C0", "#8FD8C3", "#F3D94B", "#FAB365", "#F97D67"]}, "legend": {"title": null, "orient": "none", "legendX": 1764, "legendY": -149, "symbolType": "M-1.6,-0.75H1.6V0.75H-1.6Z", "symbolSize": 1600, "symbolStrokeWidth": 0, "labelOffset": 42, "rowPadding": 35}}
              }
            },
            {
              "mark": {"type": "rule", "color": "black", "strokeWidth": 3},
              "encoding": {
                "x": {"field": "day", "type": "ordinal", "scale": {"paddingInner": 0.228, "paddingOuter": 0.04}, "axis": {"title": "Days", "labelAngle": 0, "titlePadding": 50}},
                "xOffset": {"field": "series", "type": "nominal", "scale": {"domain": ["Control", "1×", "2×", "3×", "4×"], "paddingInner": 0.24, "paddingOuter": 0.12}},
                "y": {"field": "v", "type": "quantitative", "scale": {"domain": [-15, 20], "nice": false}, "axis": {"values": [-10, 0, 10, 20], "title": "The growth rate of aphid populations(%)", "titlePadding": 9, "labelOverlap": false}},
                "y2": {"field": "end"}
              }
            },
            {
              "mark": {"type": "tick", "color": "black", "size": 26, "thickness": 3.5, "opacity": 1},
              "encoding": {
                "x": {"field": "day", "type": "ordinal", "scale": {"paddingInner": 0.228, "paddingOuter": 0.04}, "axis": {"title": "Days", "labelAngle": 0, "titlePadding": 50}},
                "xOffset": {"field": "series", "type": "nominal", "scale": {"domain": ["Control", "1×", "2×", "3×", "4×"], "paddingInner": 0.24, "paddingOuter": 0.12}},
                "y": {"field": "end", "type": "quantitative", "scale": {"domain": [-15, 20], "nice": false}, "axis": {"values": [-10, 0, 10, 20], "title": "The growth rate of aphid populations(%)", "titlePadding": 9, "labelOverlap": false}}
              }
            },
            {
              "transform": [{"filter": "datum.v >= 0"}],
              "mark": {"type": "text", "baseline": "bottom", "dy": -3, "fontSize": 45, "fontWeight": "bold", "font": "Liberation Serif", "color": "black"},
              "encoding": {
                "x": {"field": "day", "type": "ordinal", "scale": {"paddingInner": 0.228, "paddingOuter": 0.04}, "axis": {"title": "Days", "labelAngle": 0, "titlePadding": 50}},
                "xOffset": {"field": "series", "type": "nominal", "scale": {"domain": ["Control", "1×", "2×", "3×", "4×"], "paddingInner": 0.24, "paddingOuter": 0.12}},
                "y": {"field": "end", "type": "quantitative", "scale": {"domain": [-15, 20], "nice": false}, "axis": {"values": [-10, 0, 10, 20], "title": "The growth rate of aphid populations(%)", "titlePadding": 9, "labelOverlap": false}},
                "text": {"field": "sig"}
              }
            },
            {
              "transform": [{"filter": "datum.v < 0"}],
              "mark": {"type": "text", "baseline": "top", "dy": 4, "fontSize": 45, "fontWeight": "bold", "font": "Liberation Serif", "color": "black"},
              "encoding": {
                "x": {"field": "day", "type": "ordinal", "scale": {"paddingInner": 0.228, "paddingOuter": 0.04}, "axis": {"title": "Days", "labelAngle": 0, "titlePadding": 50}},
                "xOffset": {"field": "series", "type": "nominal", "scale": {"domain": ["Control", "1×", "2×", "3×", "4×"], "paddingInner": 0.24, "paddingOuter": 0.12}},
                "y": {"field": "end", "type": "quantitative", "scale": {"domain": [-15, 20], "nice": false}, "axis": {"values": [-10, 0, 10, 20], "title": "The growth rate of aphid populations(%)", "titlePadding": 9, "labelOverlap": false}},
                "text": {"field": "sig"}
              }
            },
            {
              "data": {"values": [{"zero": 0}]},
              "mark": {"type": "rule", "color": "black", "strokeWidth": 6},
              "encoding": {"y": {"field": "zero", "type": "quantitative", "scale": {"domain": [-15, 20], "nice": false}, "axis": {"values": [-10, 0, 10, 20], "title": "The growth rate of aphid populations(%)", "titlePadding": 9, "labelOverlap": false}}}
            }
          ]
        }
      ],
      "spacing": 0,
      "bounds": "flush",
      "resolve": {"scale": {"color": "independent"}, "legend": {"color": "independent"}}
    }
  ],
  "spacing": 30,
  "resolve": {"scale": {"color": "independent", "shape": "independent", "fill": "independent"}, "legend": {"color": "independent", "shape": "independent", "fill": "independent"}},
  "config": {
    "view": {"stroke": null},
    "font": "Liberation Serif",
    "title": {"font": "Liberation Serif", "fontWeight": "normal", "fontSize": 80, "color": "black", "anchor": "start", "frame": "group"},
    "axis": {
      "domainColor": "black", "domainWidth": 6, "tickColor": "black", "tickWidth": 6, "tickSize": 25, "grid": false,
      "labelFont": "Liberation Serif", "labelFontWeight": "bold", "labelFontSize": 47, "labelColor": "black", "labelPadding": 10,
      "titleFont": "Liberation Serif", "titleFontWeight": "bold", "titleColor": "black", "titleFontSize": 50
    },
    "axisY": {"titleFontSize": 42},
    "legend": {"labelFont": "Liberation Serif", "labelFontWeight": "bold", "labelFontSize": 48, "labelColor": "black", "padding": 0, "labelLimit": 400}
  }
}
